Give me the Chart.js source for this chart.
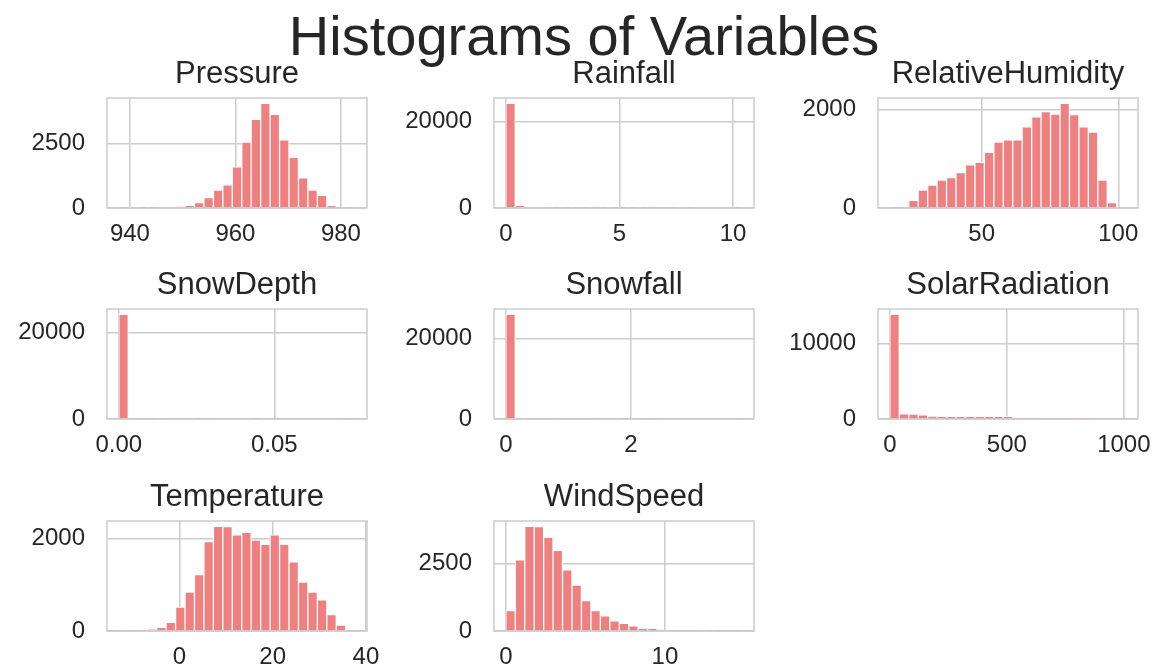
<!DOCTYPE html>
<html>
<head>
<meta charset="utf-8">
<title>Histograms of Variables</title>
<script src="https://cdn.jsdelivr.net/npm/chart.js@4.4.1/dist/chart.umd.min.js"></script>
<style>
    html, body { margin: 0; padding: 0; background: #fff; }
    #figure { position: relative; width: 1155px; height: 664px; overflow: hidden; font-family: "Liberation Sans", Arial, sans-serif; }
    #suptitle { position: absolute; left: 4px; width: 1160px; top: 5px; text-align: center; font-size: 56px; line-height: 62px; color: #262626; }
    #figure canvas { position: absolute; }
</style>
</head>
<body>
<div id="figure">
    <div id="suptitle">Histograms of Variables</div>
</div>
<script>
// Each variable: [data min, data max] split into 25 equal bins, plus the bin counts
const pressureRange = [937.9, 982.7];
const pressureCounts = [1, 0, 2, 5, 12, 24, 48, 105, 210, 407, 696, 893, 1589, 2547, 3427, 4050, 3624, 2639, 1956, 1169, 696, 486, 105, 22, 4];

const rainfallRange = [0, 10.4];
const rainfallCounts = [24160, 550, 180, 90, 50, 30, 20, 14, 10, 7, 5, 4, 3, 2, 2, 1, 1, 1, 0, 1, 0, 0, 0, 0, 1];

const humidityRange = [16.4, 102.9];
const humidityCounts = [3, 12, 158, 364, 467, 570, 619, 722, 880, 928, 1134, 1340, 1388, 1388, 1650, 1856, 1959, 1911, 2130, 1897, 1650, 1546, 570, 110, 4];

const snowDepthRange = [0, 0.076];
const snowDepthCounts = [24170, 3, 2, 1, 0, 1, 0, 0, 1, 0, 0, 0, 0, 0, 1, 0, 0, 0, 0, 0, 0, 0, 0, 0, 1];

const snowfallRange = [0, 3.78];
const snowfallCounts = [26100, 60, 25, 12, 6, 4, 3, 2, 1, 1, 1, 0, 1, 0, 0, 1, 0, 0, 0, 0, 0, 0, 0, 0, 1];

const solarRange = [0, 1010];
const solarCounts = [13900, 690, 660, 560, 380, 370, 365, 360, 350, 345, 340, 335, 330, 15, 8, 5, 3, 2, 1, 1, 1, 0, 0, 0, 1];

const temperatureRange = [-13.0, 37.7];
const temperatureCounts = [2, 4, 10, 30, 80, 188, 514, 840, 1217, 1927, 2260, 2250, 2072, 2130, 1964, 1869, 2072, 1869, 1493, 1058, 840, 674, 355, 130, 8];

const windRange = [0, 14.86];
const windCounts = [758, 2652, 3900, 3890, 3486, 3006, 2273, 1705, 1137, 758, 568, 379, 290, 190, 101, 101, 45, 25, 14, 8, 5, 3, 2, 1, 1];

// Tick values per panel
const pressureXTicks = [940, 960, 980];
const rainfallXTicks = [0, 5, 10];
const humidityXTicks = [0, 50, 100];
const snowDepthXTicks = [0, 0.05];
const snowfallXTicks = [0, 2];
const solarXTicks = [0, 500, 1000];
const temperatureXTicks = [-20, 0, 20, 40];
const windXTicks = [0, 10];

const pressureYTicks = [0, 2500];
const rainfallYTicks = [0, 20000];
const humidityYTicks = [0, 2000];
const snowDepthYTicks = [0, 20000];
const snowfallYTicks = [0, 20000];
const solarYTicks = [0, 10000];
const temperatureYTicks = [0, 2000];
const windYTicks = [0, 2500];

const panels = [
    { title: 'Pressure', range: pressureRange, counts: pressureCounts, xTicks: pressureXTicks, yTicks: pressureYTicks },
    { title: 'Rainfall', range: rainfallRange, counts: rainfallCounts, xTicks: rainfallXTicks, yTicks: rainfallYTicks },
    { title: 'RelativeHumidity', range: humidityRange, counts: humidityCounts, xTicks: humidityXTicks, yTicks: humidityYTicks },
    { title: 'SnowDepth', range: snowDepthRange, counts: snowDepthCounts, xTicks: snowDepthXTicks, yTicks: snowDepthYTicks, decimals: 2 },
    { title: 'Snowfall', range: snowfallRange, counts: snowfallCounts, xTicks: snowfallXTicks, yTicks: snowfallYTicks },
    { title: 'SolarRadiation', range: solarRange, counts: solarCounts, xTicks: solarXTicks, yTicks: solarYTicks },
    { title: 'Temperature', range: temperatureRange, counts: temperatureCounts, xTicks: temperatureXTicks, yTicks: temperatureYTicks },
    { title: 'WindSpeed', range: windRange, counts: windCounts, xTicks: windXTicks, yTicks: windYTicks },
];

// Grid layout (plot areas)
const colLeft = [107, 494, 878];
const rowTop = [98, 309, 521];
const PLOT_W = 260;
const PLOT_H = 110;
const AXIS_W = 100;
const TITLE_H = 44;
const TITLE_SIZE = 31;
const X_AXIS_H = 46;
const RIGHT_PAD = 30;

const BAR_COLOR = '#f08080';
const GRID_COLOR = '#cccccc';
const TEXT_COLOR = '#262626';
const FONT = '"Liberation Sans", Arial, sans-serif';

const figure = document.getElementById('figure');

// Light grey box around each plot area
const frameLines = {
    id: 'frameLines',
    afterDatasetsDraw(chart) {
        const { ctx, chartArea: a } = chart;
        ctx.save();
        ctx.strokeStyle = GRID_COLOR;
        ctx.lineWidth = 1.5;
        ctx.strokeRect(a.left, a.top, a.right - a.left, a.bottom - a.top);
        ctx.restore();
    }
};

function drawHistogram(panel, left, top) {
    const [lo, hi] = panel.range;
    const binWidth = (hi - lo) / panel.counts.length;
    const margin = (hi - lo) * 0.05;
    const xMin = lo - margin;
    const xMax = hi + margin;
    const yMax = Math.max(...panel.counts) * 1.05;
    const points = panel.counts.map((count, i) => ({ x: lo + (i + 0.5) * binWidth, y: count }));

    const canvas = document.createElement('canvas');
    canvas.width = AXIS_W + PLOT_W + RIGHT_PAD;
    canvas.height = TITLE_H + PLOT_H + X_AXIS_H;
    canvas.style.left = (left - AXIS_W) + 'px';
    canvas.style.top = (top - TITLE_H) + 'px';
    figure.appendChild(canvas);

    const tickFont = { family: FONT, size: 24 };
    const titlePadTop = 2;

    new Chart(canvas, {
        type: 'bar',
        data: {
            datasets: [{
                data: points,
                backgroundColor: BAR_COLOR,
                borderColor: '#ffffff',
                borderWidth: 1,
                borderSkipped: 'bottom',
                barPercentage: 1,
                categoryPercentage: 1,
            }],
        },
        options: {
            responsive: false,
            animation: false,
            events: [],
            layout: { padding: { left: 0, top: 0, bottom: 0, right: RIGHT_PAD } },
            plugins: {
                legend: { display: false },
                tooltip: { enabled: false },
                title: {
                    display: true,
                    fullSize: false,
                    text: panel.title,
                    color: TEXT_COLOR,
                    font: { family: FONT, size: TITLE_SIZE, weight: 'normal', lineHeight: 1.2 },
                    padding: { top: titlePadTop, bottom: TITLE_H - titlePadTop - TITLE_SIZE * 1.2 },
                },
            },
            scales: {
                x: {
                    type: 'linear',
                    min: xMin,
                    max: xMax,
                    offset: false,
                    grid: { color: GRID_COLOR, lineWidth: 1.5, drawTicks: false, offset: false },
                    border: { display: false },
                    ticks: {
                        color: TEXT_COLOR,
                        font: tickFont,
                        padding: 12,
                        maxRotation: 0,
                        callback: (v) => panel.decimals ? v.toFixed(panel.decimals) : v,
                    },
                    afterBuildTicks: (axis) => {
                        axis.ticks = panel.xTicks.filter((v) => v >= xMin && v <= xMax).map((v) => ({ value: v }));
                    },
                    afterFit: (axis) => {
                        axis.height = X_AXIS_H;
                        axis.paddingLeft = 0;
                        axis.paddingRight = 0;
                    },
                },
                y: {
                    min: 0,
                    max: yMax,
                    grid: { color: GRID_COLOR, lineWidth: 1.5, drawTicks: false },
                    border: { display: false },
                    ticks: {
                        color: TEXT_COLOR,
                        font: tickFont,
                        padding: 22,
                        callback: (v) => v,
                    },
                    afterBuildTicks: (axis) => {
                        axis.ticks = panel.yTicks.map((v) => ({ value: v }));
                    },
                    afterFit: (axis) => {
                        axis.width = AXIS_W;
                        axis.paddingTop = 0;
                        axis.paddingBottom = 0;
                    },
                },
            },
        },
        plugins: [frameLines],
    });
}

panels.forEach((panel, i) => {
    drawHistogram(panel, colLeft[i % 3], rowTop[Math.floor(i / 3)]);
});
</script>
</body>
</html>
